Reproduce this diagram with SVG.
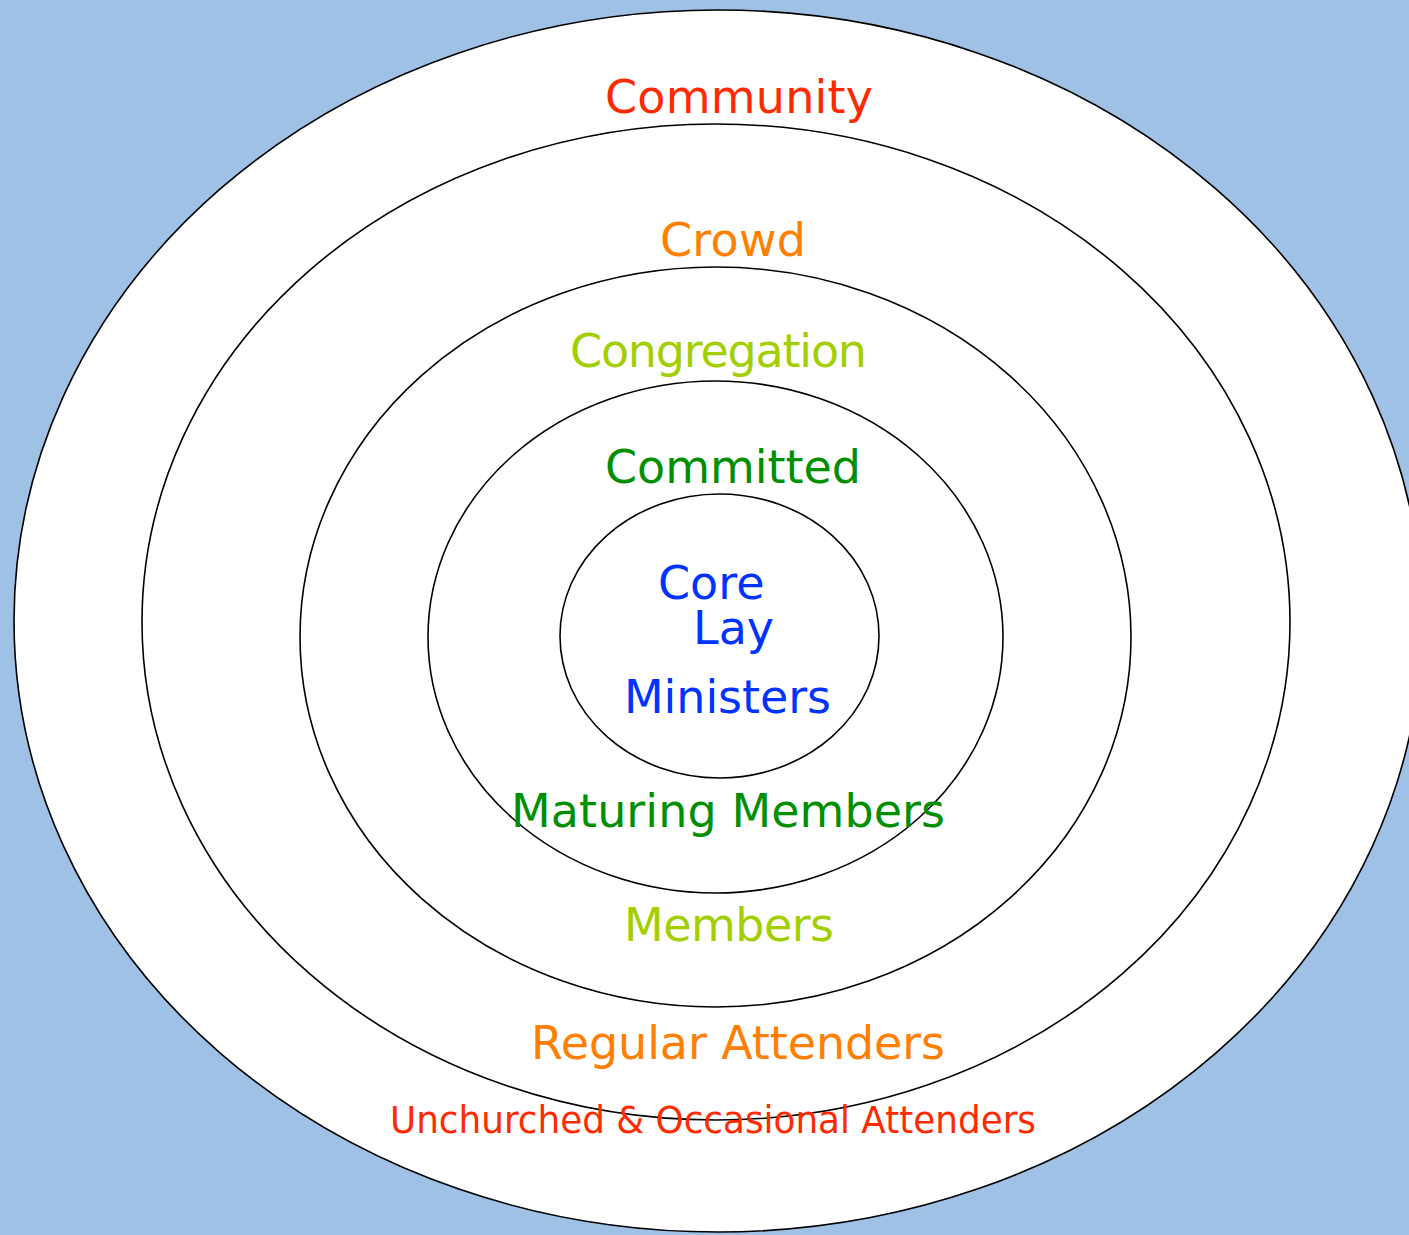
<svg xmlns="http://www.w3.org/2000/svg" width="1409" height="1235" viewBox="0 0 1409 1235">
<style>
.ring{fill:#ffffff;stroke:#000000;stroke-width:1.6}
text{font-family:"DejaVu Sans","Verdana",sans-serif;font-size:46px}
.red{fill:#ff2a00}.orange{fill:#ff8000}.lime{fill:#a3cf00}.green{fill:#008f00}.blue{fill:#0033ff}
</style>
<rect x="0" y="0" width="1409" height="1235" fill="#9fc1e6"/>
<g id="community"><ellipse class="ring" cx="718" cy="621" rx="704" ry="611"/></g>
<g id="crowd"><ellipse class="ring" cx="716" cy="622" rx="574" ry="498"/></g>
<g id="congregation"><ellipse class="ring" cx="715.5" cy="637" rx="415.5" ry="370"/></g>
<g id="committed"><ellipse class="ring" cx="715.5" cy="637" rx="287.5" ry="256"/></g>
<g id="core"><ellipse class="ring" cx="719.5" cy="636" rx="159.5" ry="142"/></g>
<g id="labels">
<text class="red" x="605" y="113" textLength="268">Community</text>
<text class="orange" x="660" y="256" textLength="146">Crowd</text>
<text class="lime" x="570" y="367" textLength="297">Congregation</text>
<text class="green" x="605" y="483" textLength="256">Committed</text>
<text class="blue" x="658" y="599">Core</text>
<text class="blue" x="693" y="644">Lay</text>
<text class="blue" x="624" y="713" textLength="207">Ministers</text>
<text class="green" x="511" y="827" textLength="434">Maturing Members</text>
<text class="lime" x="624" y="941" textLength="210">Members</text>
<text class="orange" x="531" y="1059" textLength="414">Regular Attenders</text>
<text class="red" x="390" y="1133" style="font-size:37px" textLength="646" lengthAdjust="spacingAndGlyphs">Unchurched &amp; Occasional Attenders</text>
</g>
</svg>
